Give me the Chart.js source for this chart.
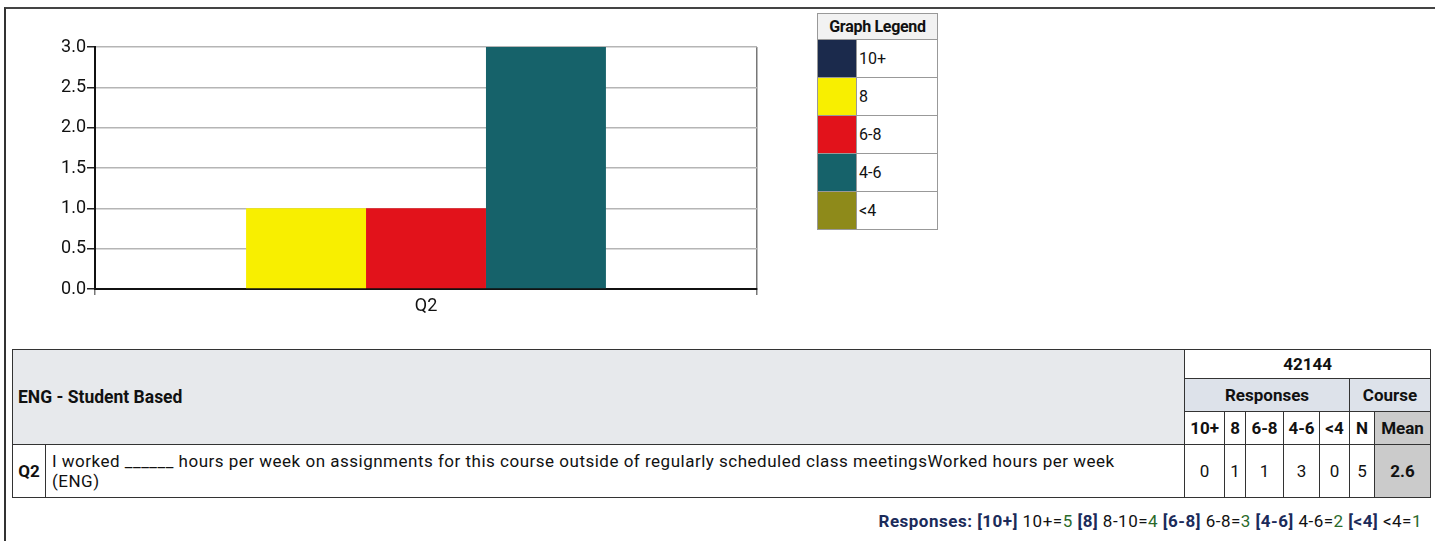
<!DOCTYPE html>
<html>
<head>
<meta charset="utf-8">
<script src="https://cdn.jsdelivr.net/npm/chart.js@4"></script>
<style>
  body { margin: 0; background: #fff; font-family: 'Roboto', sans-serif; color: #111; }
  .frame { position: absolute; left: 4px; top: 7px; width: 1440px; height: 540px; border-left: 2px solid #333; border-top: 2px solid #444; }
  .chartBox { position: absolute; left: 0; top: 0; width: 770px; height: 320px; }
  .legend { position: absolute; left: 817px; top: 13px; border-collapse: collapse; font-size: 16px; }
  .legend td, .legend th { border: 1px solid #999; padding: 0; }
  .legend th { height: 25px; background: #f2f2f2; font-weight: bold; padding: 0 3px; letter-spacing: -0.3px; }
  .legend td.sw { width: 38px; height: 37px; }
  .legend td.lb { width: 78px; padding-left: 2px; font-size: 16px; }
  .grid { position: absolute; left: 12px; top: 349px; border-collapse: collapse; table-layout: fixed; width: 1418px; font-size: 17px; }
  .grid td { border: 1.5px solid #333; padding: 0; text-align: center; }
  .grid .hd { background: #e7e9ec; text-align: left; font-weight: bold; padding-left: 5px; font-size: 17.5px; }
  .grid .rs { background: #dde2ea; font-weight: bold; }
  .grid .mn { background: #cbcbcb; font-weight: bold; }
  .grid .b { font-weight: bold; }
  .grid .q { text-align: left; padding-left: 6px; line-height: 20px; letter-spacing: 0.5px; }
  .grid .q div { width: 1110px; }
  .footer { position: absolute; right: 13px; top: 511px; font-size: 17px; letter-spacing: 0.5px; }
  .footer .k { color: #1b2b5a; font-weight: bold; }
  .footer .v { color: #2a6a2a; }
</style>
</head>
<body>
<div class="frame"></div>
<div class="chartBox"><canvas id="c"></canvas></div>
<table class="legend" id="legend"></table>
<table class="grid" id="grid"></table>
<div class="footer" id="footer"></div>
<script>
const categories = ['Q2'];
const seriesNames = ['10+', '8', '6-8', '4-6', '<4'];
const seriesValues = [[0], [1], [1], [3], [0]];
const seriesColors = ['#1b2a4c', '#f8ef00', '#e2121b', '#16626a', '#8e8a1a'];
const yMin = 0, yMax = 3, yStep = 0.5;

const questionText = 'I worked ______ hours per week on assignments for this course outside of regularly scheduled class meetingsWorked hours per week (ENG)';
const sectionTitle = 'ENG - Student Based';
const courseId = '42144';
const counts = [0, 1, 1, 3, 0];
const totalN = 5;
const courseMean = '2.6';
const scaleLabels = ['10+=5', '8-10=4', '6-8=3', '4-6=2', '<4=1'];

new Chart(document.getElementById('c'), {
  type: 'bar',
  data: {
    labels: categories,
    datasets: seriesNames.map((name, i) => ({
      label: name,
      data: seriesValues[i],
      backgroundColor: seriesColors[i],
      borderWidth: 0
    }))
  },
  options: {
    responsive: true,
    maintainAspectRatio: false,
    animation: false,
    categoryPercentage: 0.906,
    barPercentage: 1.0,
    layout: { padding: { top: 47, right: 13, left: 0, bottom: 0 } },
    plugins: { legend: { display: false }, tooltip: { enabled: false } },
    scales: {
      x: {
        offset: true,
        grid: { display: true, color: '#777', lineWidth: 1.5, tickLength: 6, offset: true },
        border: { color: '#111', width: 2 },
        ticks: { color: '#111', font: { family: 'Roboto', size: 18 }, padding: 1 },
        afterFit: (s) => { s.height = 31; }
      },
      y: {
        min: yMin,
        max: yMax,
        ticks: {
          stepSize: yStep,
          color: '#111',
          padding: 1,
          font: { family: 'Roboto', size: 18 },
          callback: (v) => Number(v).toFixed(1)
        },
        grid: { color: '#b5b5b5', lineWidth: 1.5, tickLength: 8, tickColor: '#222' },
        border: { color: '#111', width: 2 },
        afterFit: (s) => { s.width = 95; }
      }
    }
  }
});

// legend table
let lg = '<tr><th colspan="2">Graph Legend</th></tr>';
seriesNames.forEach((n, i) => {
  lg += `<tr><td class="sw" style="background:${seriesColors[i]}"></td><td class="lb">${n.replace('<', '&lt;')}</td></tr>`;
});
document.getElementById('legend').innerHTML = lg;

// data table
const esc = (s) => s.replace(/</g, '&lt;');
const colW = [33, 1139, 40, 21, 38, 36, 30, 25, 56];
let g = '<colgroup>' + colW.map((w) => `<col style="width:${w}px">`).join('') + '</colgroup>';
g += `<tr style="height:29px"><td class="hd" colspan="2" rowspan="3">${sectionTitle}</td><td colspan="7" class="b">${courseId}</td></tr>`;
g += '<tr style="height:33px"><td colspan="5" class="rs">Responses</td><td colspan="2" class="rs">Course</td></tr>';
g += '<tr style="height:33px">' + seriesNames.map((n) => `<td class="b">${esc(n)}</td>`).join('') +
  '<td class="b">N</td><td class="mn">Mean</td></tr>';
g += `<tr style="height:53px"><td class="b">Q2</td><td class="q"><div>${questionText}</div></td>` +
  counts.map((c) => `<td>${c}</td>`).join('') + `<td>${totalN}</td><td class="mn">${courseMean}</td></tr>`;
document.getElementById('grid').innerHTML = g;

// footer
let f = '<span class="k">Responses:</span>';
seriesNames.forEach((n, i) => {
  const parts = scaleLabels[i].split('=');
  f += ` <span class="k">[${esc(n)}]</span> ${esc(parts[0])}=<span class="v">${parts[1]}</span>`;
});
document.getElementById('footer').innerHTML = f;
</script>
</body>
</html>
